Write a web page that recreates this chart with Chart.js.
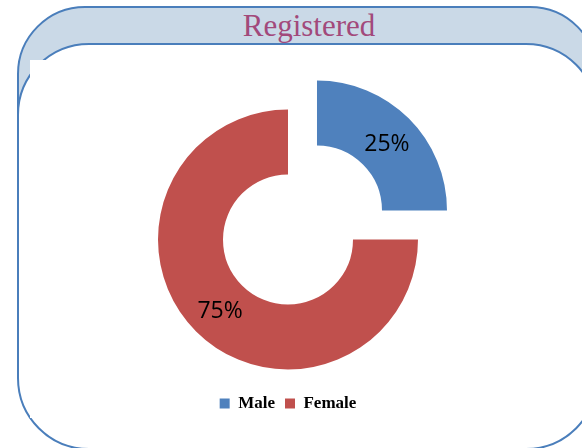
<!DOCTYPE html>
<html>
<head>
<meta charset="utf-8">
<script src="https://cdn.jsdelivr.net/npm/chart.js@4.4.1/dist/chart.umd.min.js"></script>
<style>
    html, body { margin: 0; padding: 0; background: #fff; overflow: hidden; }
    body { width: 582px; height: 448px; position: relative; }
    .moldura { position: absolute; box-sizing: border-box; border: 2.5px solid #4a7ebb; }
    #externa { left: 17px; top: 6px; width: 581px; height: 300px; border-radius: 68px; background: #cad9e7; }
    #interna { left: 17px; top: 43px; width: 581px; height: 407px; border-radius: 72px; background: #fff; }
    #remendo { position: absolute; left: 30px; top: 60px; width: 530px; height: 358px; background: #fff; }
    #titulo {
        position: absolute; left: 0; width: 618px; top: 8px; text-align: center;
        font-family: "Liberation Serif", "Times New Roman", serif; font-size: 31px;
        color: #a2497b;
    }
    #grafico { position: absolute; left: 0; top: 0; }
</style>
</head>
<body>
<div class="moldura" id="externa"></div>
<div class="moldura" id="interna"></div>
<div id="remendo"></div>
<div id="titulo">Registered</div>
<canvas id="grafico" width="582" height="448"></canvas>
<script>
const categorias = ['Male', 'Female'];
const valores = [25, 75];
const rotulos = ['25%', '75%'];
const cores = ['#4f81bd', '#c0504d'];
const destaque = [164, 0];

// escreve as porcentagens no meio de cada fatia (o arco desloca offset/4)
const pluginRotulos = {
    id: 'rotulos',
    afterDatasetsDraw(chart) {
        const ctx = chart.ctx;
        const meta = chart.getDatasetMeta(0);
        ctx.save();
        ctx.font = '23px "Open Sans", sans-serif';
        ctx.fillStyle = '#000';
        ctx.textAlign = 'center';
        ctx.textBaseline = 'middle';
        meta.data.forEach((arco, i) => {
            const meio = (arco.startAngle + arco.endAngle) / 2;
            const r = (arco.innerRadius + arco.outerRadius) / 2 + (arco.options.offset || 0) / 4;
            ctx.fillText(rotulos[i], arco.x + Math.cos(meio) * r + 1, arco.y + Math.sin(meio) * r + 3);
        });
        ctx.restore();
    }
};

function inicializar() {
    const ctx = document.getElementById('grafico').getContext('2d');
    new Chart(ctx, {
        type: 'doughnut',
        data: {
            labels: categorias,
            datasets: [{
                data: valores,
                backgroundColor: cores,
                borderWidth: 0,
                offset: destaque
            }]
        },
        options: {
            responsive: false,
            animation: false,
            events: [],
            radius: 130,
            cutout: '50%',
            layout: { padding: { top: 94, left: 0, right: 6, bottom: 26 } },
            plugins: {
                tooltip: { enabled: false },
                legend: {
                    position: 'bottom',
                    labels: {
                        boxWidth: 10,
                        boxHeight: 10,
                        padding: 10,
                        color: '#000',
                        font: { family: '"Liberation Serif", "Times New Roman", serif', size: 17, weight: 'bold' }
                    }
                }
            }
        },
        plugins: [pluginRotulos]
    });
}

window.onload = inicializar;
</script>
</body>
</html>
